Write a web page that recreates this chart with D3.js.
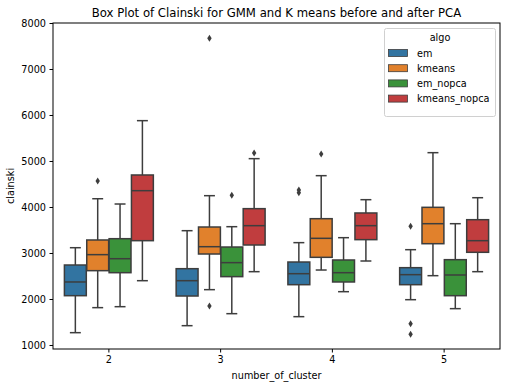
<!DOCTYPE html>
<html><head><meta charset="utf-8">
<script src="https://cdn.jsdelivr.net/npm/d3@7"></script>
<style>body{margin:0;background:#fff}svg{display:block}text{font-family:"DejaVu Sans",sans-serif;fill:#000}</style>
</head><body><svg id="c" width="506" height="388"></svg>
<script>
const clusters = ["2", "3", "4", "5"];
const algos = ["em", "kmeans", "em_nopca", "kmeans_nopca"];
const colors = ["#3274a1", "#e1812c", "#3a923a", "#c03d3e"];
const yTicks = [1000, 2000, 3000, 4000, 5000, 6000, 7000, 8000];
// [whisker low, q1, median, q3, whisker high] per cluster 2..5
const emStats          = [[1268, 2072, 2370, 2739, 3115], [1420, 2065, 2398, 2659, 3485], [1616, 2311, 2550, 2804, 3225], [1985, 2311, 2529, 2681, 3072]];
const kmeansStats      = [[1812, 2616, 2964, 3283, 4180], [2203, 2978, 3137, 3565, 4246], [2630, 2906, 3319, 3746, 4681], [2507, 3202, 3637, 3993, 5181]];
const emNopcaStats     = [[1833, 2572, 2876, 3311, 4065], [1681, 2486, 2790, 3130, 3572], [2159, 2370, 2572, 2848, 3333], [1790, 2072, 2522, 2855, 3637]];
const kmeansNopcaStats = [[2398, 3268, 4355, 4696, 5877], [2594, 3174, 3594, 3964, 5051], [2826, 3290, 3594, 3870, 4159], [2594, 3015, 3268, 3724, 4202]];
const emOutliers          = [[], [], [4310, 4370], [3580, 1464, 1232]];
const kmeansOutliers      = [[4565], [7667, 1848], [5152], []];
const emNopcaOutliers     = [[], [4254], [], []];
const kmeansNopcaOutliers = [[], [5174], [], []];

const stats = [emStats, kmeansStats, emNopcaStats, kmeansNopcaStats];
const outliers = [emOutliers, kmeansOutliers, emNopcaOutliers, kmeansNopcaOutliers];

const L = 53, R = 500, T = 23, B = 349;
const svg = d3.select("#c");
const x = d3.scaleBand().domain(clusters).range([L, R]).padding(0);
const inner = d3.scaleBand().domain(algos).range([0, x.bandwidth() * 0.8]);
const y = d3.scaleLinear().domain([913, 8000]).range([B, T]);
const line = "#3d3d3d";

const g = svg.append("g");
algos.forEach((a, ai) => {
  clusters.forEach((c, ci) => {
    const s = stats[ai][ci];
    const bw = inner.bandwidth() * 0.98;
    const cx = x(c) + x.bandwidth() * 0.1 + inner(a) + inner.bandwidth() / 2;
    const gg = g.append("g");
    gg.append("line").attr("x1", cx).attr("x2", cx).attr("y1", y(s[0])).attr("y2", y(s[1])).attr("stroke", line).attr("stroke-width", 1.5);
    gg.append("line").attr("x1", cx).attr("x2", cx).attr("y1", y(s[3])).attr("y2", y(s[4])).attr("stroke", line).attr("stroke-width", 1.5);
    [s[0], s[4]].forEach(v => gg.append("line").attr("x1", cx - bw / 4).attr("x2", cx + bw / 4).attr("y1", y(v)).attr("y2", y(v)).attr("stroke", line).attr("stroke-width", 1.5));
    gg.append("rect").attr("x", cx - bw / 2).attr("width", bw).attr("y", y(s[3])).attr("height", y(s[1]) - y(s[3]))
      .attr("fill", colors[ai]).attr("stroke", line).attr("stroke-width", 1.5);
    gg.append("line").attr("x1", cx - bw / 2).attr("x2", cx + bw / 2).attr("y1", y(s[2])).attr("y2", y(s[2])).attr("stroke", line).attr("stroke-width", 1.5);
    outliers[ai][ci].forEach(v => {
      const py = y(v);
      gg.append("path").attr("d", `M${cx},${py - 3.5}L${cx + 2.2},${py}L${cx},${py + 3.5}L${cx - 2.2},${py}Z`).attr("fill", line);
    });
  });
});

svg.append("rect").attr("x", L).attr("y", T).attr("width", R - L).attr("height", B - T).attr("fill", "none").attr("stroke", "#000").attr("stroke-width", 1);

const ya = svg.append("g").attr("transform", `translate(${L},0)`).call(d3.axisLeft(y).tickValues(yTicks).tickFormat(d3.format("d")).tickSize(3.5).tickPadding(3.5));
ya.select(".domain").remove();
ya.selectAll("text").style("font-size", "9.7px").style("font-family", "DejaVu Sans");
const xa = svg.append("g").attr("transform", `translate(0,${B})`).call(d3.axisBottom(x).tickSize(3.5).tickPadding(3.5));
xa.select(".domain").remove();
xa.selectAll("text").style("font-size", "9.7px").style("font-family", "DejaVu Sans");

svg.append("text").attr("x", (L + R) / 2).attr("y", 17).attr("text-anchor", "middle").style("font-size", "11.7px").text("Box Plot of Clainski for GMM and K means before and after PCA");
svg.append("text").attr("x", (L + R) / 2).attr("y", 379).attr("text-anchor", "middle").style("font-size", "9.7px").text("number_of_cluster");
svg.append("text").attr("transform", `translate(14,${(T + B) / 2}) rotate(-90)`).attr("text-anchor", "middle").style("font-size", "9.7px").text("clainski");

const lg = svg.append("g");
lg.append("rect").attr("x", 384.5).attr("y", 28.5).attr("width", 111).attr("height", 88).attr("rx", 2).attr("fill", "#fff").attr("fill-opacity", 0.8).attr("stroke", "#d0d0d0");
lg.append("text").attr("x", 440).attr("y", 41).attr("text-anchor", "middle").style("font-size", "9.7px").text("algo");
algos.forEach((a, i) => {
  const yy = 53 + i * 15.2;
  lg.append("rect").attr("x", 388.5).attr("y", yy - 3.5).attr("width", 19).attr("height", 7).attr("fill", colors[i]).attr("stroke", line).attr("stroke-width", 0.8);
  lg.append("text").attr("x", 417).attr("y", yy + 3.5).style("font-size", "9.7px").text(a);
});
</script></body></html>
